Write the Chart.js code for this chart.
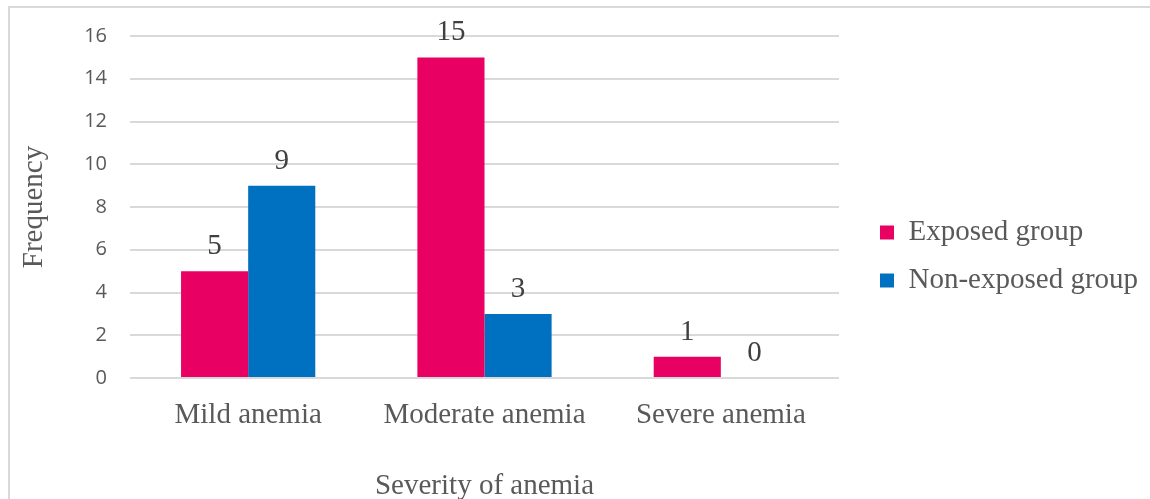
<!DOCTYPE html>
<html>
<head>
<meta charset="utf-8">
<title>Severity of anemia</title>
<script src="https://cdn.jsdelivr.net/npm/chart.js@4.4.1/dist/chart.umd.min.js"></script>
<style>
  html, body { margin: 0; padding: 0; background: #ffffff; overflow: hidden; }
  #frame {
    position: absolute; left: 8px; top: 6px; width: 1160px; height: 520px;
    border-left: 2px solid #d9d9d9; border-top: 2px solid #d9d9d9;
  }
  #chartBox { position: absolute; left: 0; top: 0; width: 1150px; height: 499px; }
</style>
</head>
<body>
<div id="frame"></div>
<div id="chartBox"><canvas id="anemiaChart" width="1150" height="499"></canvas></div>
<script>
// Anemia severity counts per group
const categories = ['Mild anemia', 'Moderate anemia', 'Severe anemia'];
const exposedGroup = [5, 15, 1];
const nonExposedGroup = [9, 3, 0];
const seriesNames = ['Exposed group', 'Non-exposed group'];
const yTickValues = [0, 2, 4, 6, 8, 10, 12, 14, 16];
const axisTitles = { x: 'Severity of anemia', y: 'Frequency' };

const SERIF = '"Liberation Serif", "Times New Roman", serif';
const SANS = '"Open Sans", "Liberation Sans", sans-serif';
const TEXT_GREY = '#595959';
const GRID_GREY = '#d9d9d9';

// Writes each bar's value just above it
const barValueLabels = {
  id: 'barValueLabels',
  afterDatasetsDraw(chart) {
    const ctx = chart.ctx;
    ctx.save();
    ctx.font = '29px ' + SERIF;
    ctx.fillStyle = '#404040';
    ctx.textAlign = 'center';
    ctx.textBaseline = 'alphabetic';
    chart.data.datasets.forEach((ds, i) => {
      chart.getDatasetMeta(i).data.forEach((bar, j) => {
        ctx.fillText(String(ds.data[j]), bar.x, bar.y - 17);
      });
    });
    ctx.restore();
  }
};

// Nudges the legend block a little right and up from its default slot
const legendPlacement = {
  id: 'legendPlacement',
  afterLayout(chart) {
    const lg = chart.legend;
    if (!lg) return;
    lg.left += 22; lg.right += 22;
    lg.top -= 11; lg.bottom -= 11;
  }
};

new Chart(document.getElementById('anemiaChart'), {
  type: 'bar',
  data: {
    labels: categories,
    datasets: [
      { label: seriesNames[0], data: exposedGroup, backgroundColor: '#E80062', borderWidth: 0 },
      { label: seriesNames[1], data: nonExposedGroup, backgroundColor: '#0070C0', borderWidth: 0 }
    ]
  },
  options: {
    responsive: false,
    animation: false,
    devicePixelRatio: 1,
    layout: { padding: { left: 8, top: 36, right: 34, bottom: 0 } },
    datasets: { bar: { categoryPercentage: 0.568, barPercentage: 1.0 } },
    plugins: {
      tooltip: { enabled: false },
      legend: {
        position: 'right',
        align: 'center',
        labels: {
          font: { family: SERIF, size: 29 },
          color: TEXT_GREY,
          boxWidth: 14,
          boxHeight: 14,
          padding: 19
        }
      }
    },
    scales: {
      x: {
        grid: { display: false },
        border: { display: false },
        ticks: { font: { family: SERIF, size: 29 }, color: TEXT_GREY, padding: 12, maxRotation: 0 },
        title: {
          display: true, text: axisTitles.x,
          font: { family: SERIF, size: 29, lineHeight: 0.8 }, color: TEXT_GREY,
          padding: { top: 0, bottom: 1 }
        },
        afterFit(scale) { scale.height = 121; }
      },
      y: {
        min: yTickValues[0],
        max: yTickValues[yTickValues.length - 1],
        grid: { color: GRID_GREY, lineWidth: 2, drawTicks: false },
        border: { display: false },
        ticks: {
          stepSize: yTickValues[1] - yTickValues[0],
          font: { family: SANS, size: 20 }, color: TEXT_GREY, padding: 23
        },
        title: {
          display: true, text: axisTitles.y,
          font: { family: SERIF, size: 29 }, color: TEXT_GREY,
          padding: { top: 9, bottom: 0 }
        },
        afterFit(scale) { scale.width = 122; }
      }
    }
  },
  plugins: [barValueLabels, legendPlacement]
});
</script>
</body>
</html>
